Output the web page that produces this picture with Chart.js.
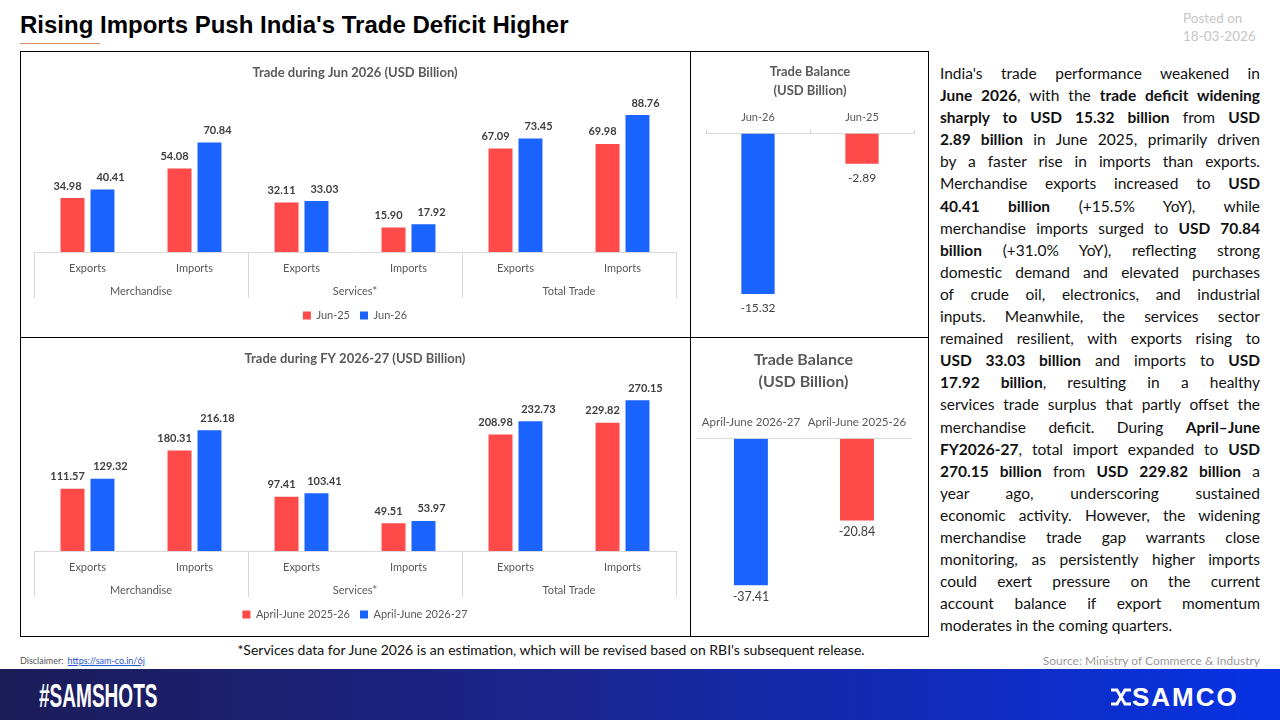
<!DOCTYPE html>
<html>
<head>
<meta charset="utf-8">
<title>Rising Imports Push India's Trade Deficit Higher</title>
<script src="https://cdn.jsdelivr.net/npm/chart.js@4.4.1/dist/chart.umd.min.js"></script>
<style>
  body { margin: 0; width: 1280px; height: 720px; position: relative; background: #fff; overflow: hidden; font-family: Lato, "Open Sans", sans-serif; }
  .abs { position: absolute; }
  #title { left: 20px; top: 13px; font: bold 24px/24px "Liberation Sans", Arial, sans-serif; color: #000; white-space: nowrap; }
  #titleLine { left: 20px; top: 43px; width: 80px; height: 1px; background: #d98a66; }
  #posted { left: 1183px; top: 9px; font-size: 13.5px; line-height: 18px; color: #c6c6c6; }
  .hl { background: #000; }
  canvas { position: absolute; }
  #para { left: 940px; top: 62px; width: 320px; font-size: 15.5px; color: #111; }
  #para div { height: 22.1px; line-height: 22.1px; text-align: justify; text-align-last: justify; white-space: nowrap; }
  #para div.last { text-align-last: left; }
  #para b { font-weight: bold; }
  #note { left: 20px; width: 1062px; top: 641px; text-align: center; font-size: 14px; color: #111; }
  #disc { left: 20px; top: 655px; font-size: 9px; color: #555; }
  #disc span { color: #2a55cc; text-decoration: underline; margin-left: 4px; }
  #source { right: 20px; top: 653px; font-size: 12px; color: #9a9a9a; }
  #band { left: 0; top: 669px; width: 1280px; height: 51px; background: linear-gradient(90deg, #1c1c58 0%, #1a2590 45%, #0732e4 100%); }
  #tag { left: 39px; top: 678px; font: bold 34px/34px "Liberation Sans", Arial, sans-serif; color: #fff; transform: scaleX(0.56); transform-origin: left top; white-space: nowrap; }
  #logo { left: 1132px; top: 684px; font: bold 26px/26px "Liberation Sans", Arial, sans-serif; color: #fff; letter-spacing: 2px; }
  #logoIcon { left: 1109px; top: 688px; }
</style>
</head>
<body>
<div id="title" class="abs">Rising Imports Push India's Trade Deficit Higher</div>
<div id="titleLine" class="abs"></div>
<div id="posted" class="abs">Posted on<br>18-03-2026</div>

<canvas id="tradeMonth" width="670" height="286" style="left:20px;top:51px"></canvas>
<canvas id="balMonth" width="238" height="286" style="left:690px;top:51px"></canvas>
<canvas id="tradeFy" width="670" height="299" style="left:20px;top:337px"></canvas>
<canvas id="balFy" width="238" height="299" style="left:690px;top:337px"></canvas>

<!-- panel frame -->
<div class="abs hl" style="left:20px;top:51px;width:909px;height:1px"></div>
<div class="abs hl" style="left:20px;top:337px;width:909px;height:1px"></div>
<div class="abs hl" style="left:20px;top:636px;width:909px;height:1px"></div>
<div class="abs hl" style="left:20px;top:51px;width:1px;height:586px"></div>
<div class="abs hl" style="left:690px;top:51px;width:1px;height:586px"></div>
<div class="abs hl" style="left:928px;top:51px;width:1px;height:586px"></div>

<div id="para" class="abs">
  <div>India's trade performance weakened in</div>
  <div><b>June 2026</b>, with the <b>trade deficit widening</b></div>
  <div><b>sharply to USD 15.32 billion</b> from <b>USD</b></div>
  <div><b>2.89 billion</b> in June 2025, primarily driven</div>
  <div>by a faster rise in imports than exports.</div>
  <div>Merchandise exports increased to <b>USD</b></div>
  <div><b>40.41 billion</b> (+15.5% YoY), while</div>
  <div>merchandise imports surged to <b>USD 70.84</b></div>
  <div><b>billion</b> (+31.0% YoY), reflecting strong</div>
  <div>domestic demand and elevated purchases</div>
  <div>of crude oil, electronics, and industrial</div>
  <div>inputs. Meanwhile, the services sector</div>
  <div>remained resilient, with exports rising to</div>
  <div><b>USD 33.03 billion</b> and imports to <b>USD</b></div>
  <div><b>17.92 billion</b>, resulting in a healthy</div>
  <div>services trade surplus that partly offset the</div>
  <div>merchandise deficit. During <b>April–June</b></div>
  <div><b>FY2026-27</b>, total import expanded to <b>USD</b></div>
  <div><b>270.15 billion</b> from <b>USD 229.82 billion</b> a</div>
  <div>year ago, underscoring sustained</div>
  <div>economic activity. However, the widening</div>
  <div>merchandise trade gap warrants close</div>
  <div>monitoring, as persistently higher imports</div>
  <div>could exert pressure on the current</div>
  <div>account balance if export momentum</div>
  <div class="last">moderates in the coming quarters.</div>
</div>

<div id="note" class="abs">*Services data for June 2026 is an estimation, which will be revised based on RBI's subsequent release.</div>
<div id="disc" class="abs">Disclaimer:<span>https://sam-co.in/6j</span></div>
<div id="source" class="abs">Source: Ministry of Commerce &amp; Industry</div>

<div id="band" class="abs"></div>
<div id="tag" class="abs">#SAMSHOTS</div>
<svg id="logoIcon" class="abs" width="24" height="18" viewBox="0 0 24 18">
  <path d="M2 2 H8 L12 9 L8 16 H2" stroke="#fff" stroke-width="3" fill="none"/>
  <path d="M22 2 H16 L12 9 L16 16 H22" stroke="#fff" stroke-width="3" fill="none"/>
</svg>
<div id="logo" class="abs">SAMCO</div>

<script>
// values (USD billion)
const subLabels = ['Exports', 'Imports', 'Exports', 'Imports', 'Exports', 'Imports'];
const groupLabels = ['Merchandise', 'Services*', 'Total Trade'];

const jun25 = [34.98, 54.08, 32.11, 15.90, 67.09, 69.98];
const jun26 = [40.41, 70.84, 33.03, 17.92, 73.45, 88.76];

const fy2526 = [111.57, 180.31, 97.41, 49.51, 208.98, 229.82];
const fy2627 = [129.32, 216.18, 103.41, 53.97, 232.73, 270.15];

const balMonthLabels = ['Jun-26', 'Jun-25'];
const balMonthValues = [-15.32, -2.89];

const balFyLabels = ['April-June 2026-27', 'April-June 2025-26'];
const balFyValues = [-37.41, -20.84];

const RED = '#ff4a4a';
const BLUE = '#1a63ff';

Chart.defaults.font.family = 'Lato, "Open Sans", sans-serif';
Chart.defaults.color = '#595959';

// writes the value above (or below, for negatives) each bar
const valueLabels = {
    id: 'valueLabels',
    afterDatasetsDraw(chart, args, opts) {
        const ctx = chart.ctx;
        ctx.save();
        ctx.font = opts.font;
        ctx.fillStyle = opts.color;
        ctx.textAlign = 'center';
        ctx.textBaseline = 'middle';
        chart.data.datasets.forEach((ds, i) => {
            const meta = chart.getDatasetMeta(i);
            const dx = ds.labelShift || 0;
            meta.data.forEach((bar, j) => {
                const v = ds.data[j];
                const y = v >= 0 ? bar.y - opts.offset : bar.y + opts.offset;
                ctx.fillText(v.toFixed(2), bar.x + dx, y);
            });
        });
        ctx.restore();
    }
};

// second row of the category axis (Merchandise / Services* / Total Trade)
function groupAxis(groups) {
    return {
        id: 'groupAxis',
        afterDraw(chart) {
            const x = chart.scales.x;
            const ctx = chart.ctx;
            const n = chart.data.labels.length;
            const per = n / groups.length;
            const w = (x.right - x.left) / n;
            const y0 = chart.chartArea.bottom;
            ctx.save();
            ctx.strokeStyle = '#d9d9d9';
            ctx.lineWidth = 1;
            for (let g = 0; g <= groups.length; g++) {
                const bx = Math.round(x.left + g * per * w) + 0.5;
                ctx.beginPath();
                ctx.moveTo(bx, y0);
                ctx.lineTo(bx, y0 + 46);
                ctx.stroke();
            }
            ctx.font = '11px Lato, sans-serif';
            ctx.fillStyle = '#595959';
            ctx.textAlign = 'center';
            ctx.textBaseline = 'middle';
            groups.forEach((t, g) => ctx.fillText(t, x.left + (g + 0.5) * per * w, y0 + 39));
            ctx.restore();
        }
    };
}

function tradeChart(id, title, names, prev, curr, yMax) {
    return new Chart(document.getElementById(id), {
        type: 'bar',
        data: {
            labels: subLabels,
            datasets: [
                { label: names[0], data: prev, backgroundColor: RED, labelShift: -5,
                  categoryPercentage: 0.56, barPercentage: 0.8 },
                { label: names[1], data: curr, backgroundColor: BLUE, labelShift: 8,
                  categoryPercentage: 0.56, barPercentage: 0.8 }
            ]
        },
        options: {
            responsive: false,
            animation: false,
            layout: { padding: { left: 14, right: 14, top: 0, bottom: 6 } },
            scales: {
                x: {
                    grid: { display: false },
                    border: { color: '#d9d9d9' },
                    ticks: { font: { size: 11 }, color: '#595959', padding: 2, maxRotation: 0 },
                    afterFit: s => { s.height = 48; }
                },
                y: { display: false, min: 0, max: yMax }
            },
            plugins: {
                title: {
                    display: true,
                    text: title,
                    color: '#595959',
                    font: { size: 13, weight: 'bold' },
                    padding: { top: 14, bottom: 17 }
                },
                legend: {
                    position: 'bottom',
                    labels: { boxWidth: 8, boxHeight: 8, font: { size: 11 }, color: '#595959', padding: 10 }
                },
                tooltip: { enabled: false },
                valueLabels: { font: 'bold 11px Lato, sans-serif', color: '#404040', offset: 12 }
            }
        },
        plugins: [valueLabels, groupAxis(groupLabels)]
    });
}

function balanceChart(id, labels, values, yMin, cfg) {
    return new Chart(document.getElementById(id), {
        type: 'bar',
        data: {
            labels: labels,
            datasets: [{
                data: values,
                backgroundColor: [BLUE, RED],
                categoryPercentage: 1,
                barPercentage: 0.32
            }]
        },
        options: {
            responsive: false,
            animation: false,
            layout: { padding: cfg.padding },
            scales: {
                x: {
                    position: 'top',
                    grid: { display: cfg.ticks, drawTicks: cfg.ticks, drawOnChartArea: false, tickLength: 4, color: '#d9d9d9' },
                    border: { color: '#d9d9d9' },
                    ticks: { font: { size: cfg.tickSize }, color: '#595959', padding: cfg.tickPad,
                             maxRotation: 0, minRotation: 0, autoSkip: false }
                },
                y: { display: false, min: yMin, max: 0 }
            },
            plugins: {
                title: {
                    display: true,
                    text: ['Trade Balance', '(USD Billion)'],
                    color: '#595959',
                    font: { size: cfg.titleSize, weight: 'bold', lineHeight: cfg.titleLh },
                    padding: cfg.titlePad
                },
                legend: { display: false },
                tooltip: { enabled: false },
                valueLabels: { font: cfg.valueFont, color: '#404040', offset: cfg.valueOffset }
            }
        },
        plugins: [valueLabels]
    });
}

tradeChart('tradeMonth', 'Trade during Jun 2026 (USD Billion)', ['Jun-25', 'Jun-26'], jun25, jun26, 100);
tradeChart('tradeFy', 'Trade during FY 2026-27 (USD Billion)', ['April-June 2025-26', 'April-June 2026-27'], fy2526, fy2627, 300);

balanceChart('balMonth', balMonthLabels, balMonthValues, -18, {
    padding: { left: 16, right: 14, top: 0, bottom: 15 },
    ticks: true, tickSize: 11, tickPad: 5,
    titleSize: 13, titleLh: 1.45, titlePad: { top: 11.5, bottom: 6 },
    valueFont: '12px Lato, sans-serif', valueOffset: 14
});
balanceChart('balFy', balFyLabels, balFyValues, -45, {
    padding: { left: 7, right: 18, top: 0, bottom: 21 },
    ticks: false, tickSize: 11.5, tickPad: 10,
    titleSize: 16, titleLh: 1.375, titlePad: { top: 12, bottom: 12 },
    valueFont: '12.5px Lato, sans-serif', valueOffset: 12
});
</script>
</body>
</html>
